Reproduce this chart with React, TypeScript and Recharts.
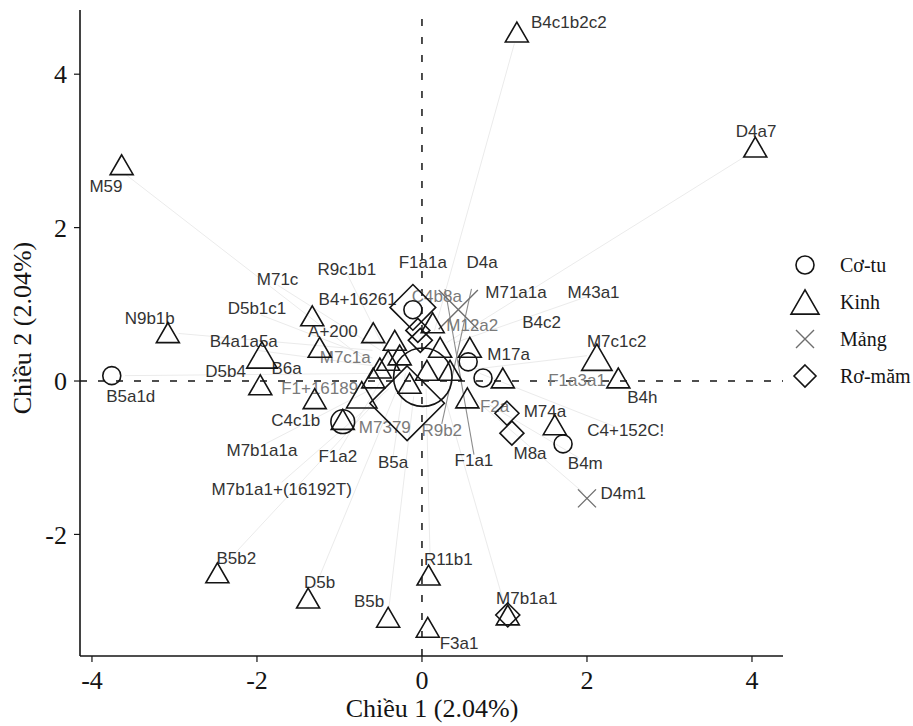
import React from 'react';
import { ScatterChart, Scatter, XAxis, YAxis, ReferenceLine } from 'recharts';

// Axis ticks
const xTicks = [-4, -2, 0, 2, 4];
const yTicks = [-2, 0, 2, 4];

// Haplotypes per population: [dim1, dim2, count]
const cotuPoints = [
  [-3.76, 0.07, 1], [-0.96, -0.53, 2], [0.01, 0.05, 19], [-0.11, 0.93, 1],
  [0.56, 0.25, 1], [0.74, 0.04, 1], [1.71, -0.82, 1],
];
const kinhPoints = [
  [1.15, 4.55, 1], [4.04, 3.05, 1], [-3.64, 2.82, 1], [-3.08, 0.63, 1],
  [-1.94, 0.34, 2], [-1.96, -0.05, 1], [-1.33, 0.85, 1], [-1.24, 0.44, 1],
  [-1.3, -0.23, 1], [-0.96, -0.5, 1], [-2.48, -2.5, 1], [-1.38, -2.83, 1],
  [-0.41, -3.08, 1], [0.08, -2.53, 1], [0.07, -3.21, 1], [1.04, -3.05, 1],
  [2.38, 0.04, 1], [2.12, 0.31, 2], [1.61, -0.57, 1],
  [-0.59, 0.63, 1], [-0.33, 0.53, 1], [0.13, 0.76, 1], [0.22, 0.44, 1],
  [0.58, 0.44, 1], [0.34, 0.14, 1], [0.06, 0.14, 1], [-0.15, -0.03, 1],
  [-0.51, 0.17, 1], [-0.59, 0.04, 1], [-0.73, -0.18, 2], [0.55, -0.22, 1],
  [0.98, 0.04, 1], [-0.41, 0.27, 1], [-0.27, 0.34, 1],
];
const mangPoints = [
  [2.0, -1.53, 1], [0.44, 0.93, 7],
];
const romamPoints = [
  [-0.11, 0.96, 5], [-0.05, 0.66, 1], [-0.02, 0.53, 1], [-0.18, -0.29, 17],
  [1.03, -0.42, 1], [1.09, -0.68, 1], [1.04, -3.05, 1],
];

// Haplogroup labels: [text, dim1, dim2]
const labelRows: [string, number, number][] = [
  ['B4c1b2c2', 1.78, 4.68], ['D4a7', 4.05, 3.25], ['M59', -3.83, 2.54],
  ['N9b1b', -3.3, 0.82], ['B5a1d', -3.53, -0.2], ['M71c', -1.75, 1.33],
  ['D5b1c1', -2.0, 0.94], ['B4a1a5a', -2.16, 0.52], ['D5b4', -2.38, 0.12],
  ['B6a', -1.64, 0.16], ['F1+16189', -1.24, -0.1], ['C4c1b', -1.53, -0.51],
  ['M7b1a1a', -1.94, -0.9], ['M7b1a1+(16192T)', -1.7, -1.41], ['F1a2', -1.02, -0.99],
  ['B5a', -0.35, -1.06], ['F1a1', 0.63, -1.04], ['M8a', 1.31, -0.94],
  ['B4m', 1.98, -1.07], ['C4+152C!', 2.47, -0.65], ['M74a', 1.49, -0.4],
  ['D4m1', 2.44, -1.46], ['B4h', 2.67, -0.22], ['M7c1c2', 2.36, 0.51],
  ['F1a3a1', 1.88, 0.01], ['M17a', 1.05, 0.34], ['B4c2', 1.45, 0.76],
  ['M12a2', 0.61, 0.73], ['M71a1a', 1.14, 1.16], ['M43a1', 2.08, 1.16],
  ['D4a', 0.73, 1.54], ['F1a1a', 0.01, 1.54], ['R9c1b1', -0.91, 1.46],
  ['B4+16261', -0.78, 1.06], ['C4b8a', 0.18, 1.1], ['A+200', -1.08, 0.64],
  ['M7c1a', -0.93, 0.31], ['M7379', -0.45, -0.61], ['R9b2', 0.24, -0.64],
  ['F2a', 0.88, -0.33], ['B5b2', -2.25, -2.31], ['D5b', -1.24, -2.63],
  ['B5b', -0.64, -2.88], ['R11b1', 0.32, -2.33], ['F3a1', 0.45, -3.42],
  ['M7b1a1', 1.27, -2.83],
];

// Leader segments from a label (or marker) to its haplotype in the cluster: [from1, from2, to1, to2]
const leaderRows = [
  [-3.6, 2.7, -0.6, 0.2], [1.12, 4.4, 0.15, 0.65], [3.95, 2.95, 0.3, 0.5],
  [-2.95, 0.62, -0.6, 0.4], [-3.6, 0.07, -0.5, 0.1], [-1.7, -1.32, -0.4, -0.1],
  [-1.9, -0.82, -0.6, -0.1], [-1.0, -0.9, -0.5, 0.0], [-0.35, -0.98, -0.2, 0.1],
  [-2.4, -2.4, -0.5, -0.2], [-1.3, -2.7, -0.3, -0.1], [-0.4, -2.95, -0.1, -0.2],
  [0.1, -2.4, 0.05, -0.1], [1.0, -2.92, 0.3, -0.3], [1.95, -1.45, 0.6, -0.2],
  [1.9, -1.0, 0.8, -0.3], [2.35, -0.6, 0.7, 0.1], [2.0, 1.1, 0.4, 0.5],
  [2.0, 0.33, 0.6, 0.15], [-1.75, 1.25, -0.5, 0.4], [-0.9, 1.38, -0.4, 0.3],
  [-1.95, 0.86, -0.6, 0.3], [-2.0, 0.4, -0.6, 0.2],
];
const darkLeaderRows = [
  [0.63, -0.96, 0.28, 1.2], [0.24, -0.56, 0.6, 1.2],
];

const fadedLabels = ['F1+16189', 'C4b8a', 'M7379', 'R9b2', 'F2a', 'M12a2', 'F1a3a1', 'M7c1a'];

const toPoints = (rows: number[][]) => rows.map(([x, y, n]) => ({ x, y, n }));
const labels = labelRows.map(([text, x, y]) => ({ text, x, y }));

const INK = '#141414';
const GREY = '#6e6e6e';
const SERIF = '"Liberation Serif", "Times New Roman", serif';
const SANS = '"Liberation Sans", Arial, sans-serif';

const grow = (base: number, n: number) => base * Math.pow(n, 0.4);

function Ring(p: any) {
  return <circle cx={p.cx} cy={p.cy} r={grow(9, p.payload.n)} fill="none" stroke={INK} strokeWidth={1.6} />;
}

function trianglePath(cx: number, cy: number, h: number) {
  const v = h * 0.866;
  return `${cx},${cy - v} ${cx - h},${cy + v} ${cx + h},${cy + v}`;
}

function Tri(p: any) {
  const h = grow(11.5, p.payload.n);
  return <polygon points={trianglePath(p.cx, p.cy, h)} fill="none" stroke={INK} strokeWidth={1.6} strokeLinejoin="miter" />;
}

function crossPath(cx: number, cy: number, h: number) {
  return `M${cx - h},${cy - h}L${cx + h},${cy + h}M${cx - h},${cy + h}L${cx + h},${cy - h}`;
}

function Cross(p: any) {
  const h = grow(9, p.payload.n);
  return <path d={crossPath(p.cx, p.cy, h)} fill="none" stroke={GREY} strokeWidth={1.4} />;
}

function diamondPath(cx: number, cy: number, h: number) {
  return `${cx},${cy - h} ${cx + h},${cy} ${cx},${cy + h} ${cx - h},${cy}`;
}

function Diamond(p: any) {
  const h = grow(12, p.payload.n);
  return <polygon points={diamondPath(p.cx, p.cy, h)} fill="none" stroke={INK} strokeWidth={1.6} />;
}

function LabelText(p: any) {
  const faded = fadedLabels.includes(p.payload.text);
  return (
    <text
      x={p.cx}
      y={p.cy}
      textAnchor="middle"
      dominantBaseline="central"
      fontFamily={SANS}
      fontSize={17}
      fill={faded ? '#7a7a7a' : '#333'}
    >
      {p.payload.text}
    </text>
  );
}

const legendItems = [
  { name: 'Cơ-tu', kind: 'circle' },
  { name: 'Kinh', kind: 'triangle' },
  { name: 'Mảng', kind: 'cross' },
  { name: 'Rơ-măm', kind: 'diamond' },
];

function LegendIcon({ kind, cx, cy }: { kind: string; cx: number; cy: number }) {
  if (kind === 'circle') return <circle cx={cx} cy={cy} r={9} fill="none" stroke={INK} strokeWidth={1.6} />;
  if (kind === 'triangle') return <polygon points={trianglePath(cx, cy, 14)} fill="none" stroke={INK} strokeWidth={1.6} />;
  if (kind === 'cross') return <path d={crossPath(cx, cy, 9)} stroke={GREY} strokeWidth={1.4} />;
  return <polygon points={diamondPath(cx, cy, 11)} fill="none" stroke={INK} strokeWidth={1.6} />;
}

export default function App() {
  const tick = { fontFamily: SERIF, fontSize: 26, fill: INK };
  const zeroLine = { stroke: INK, strokeWidth: 1.5, strokeDasharray: '7 11' };

  return (
    <div style={{ position: 'absolute', left: 0, top: 0, width: 913, height: 726, background: '#fff' }}>
      <ScatterChart width={913} height={726} margin={{ top: 10, right: 130, bottom: 0, left: 0 }}>
        <XAxis
          type="number"
          dataKey="x"
          domain={[-4.145, 4.376]}
          ticks={xTicks}
          allowDataOverflow
          height={70}
          tick={tick}
          tickSize={6}
          tickMargin={9}
          axisLine={{ stroke: INK, strokeWidth: 1.6 }}
          tickLine={{ stroke: INK, strokeWidth: 1.2 }}
        />
        <YAxis
          type="number"
          dataKey="y"
          domain={[-3.585, 4.837]}
          ticks={yTicks}
          allowDataOverflow
          width={80}
          tick={tick}
          tickSize={6}
          tickMargin={7}
          axisLine={{ stroke: INK, strokeWidth: 1.6 }}
          tickLine={{ stroke: INK, strokeWidth: 1.2 }}
        />
        {leaderRows.map(([x1, y1, x2, y2], i) => (
          <ReferenceLine key={`l${i}`} segment={[{ x: x1, y: y1 }, { x: x2, y: y2 }]} stroke="#ebebeb" strokeWidth={1} />
        ))}
        {darkLeaderRows.map(([x1, y1, x2, y2], i) => (
          <ReferenceLine key={`d${i}`} segment={[{ x: x1, y: y1 }, { x: x2, y: y2 }]} stroke="#8c8c8c" strokeWidth={1.1} />
        ))}
        <ReferenceLine x={0} {...zeroLine} />
        <ReferenceLine y={0} {...zeroLine} />
        <Scatter name="labels" data={labels} shape={LabelText} isAnimationActive={false} />
        <Scatter name="Mảng" data={toPoints(mangPoints)} shape={Cross} isAnimationActive={false} />
        <Scatter name="Kinh" data={toPoints(kinhPoints)} shape={Tri} isAnimationActive={false} />
        <Scatter name="Cơ-tu" data={toPoints(cotuPoints)} shape={Ring} isAnimationActive={false} />
        <Scatter name="Rơ-măm" data={toPoints(romamPoints)} shape={Diamond} isAnimationActive={false} />
      </ScatterChart>

      {/* axis titles and legend */}
      <svg width={913} height={726} style={{ position: 'absolute', left: 0, top: 0, pointerEvents: 'none' }}>
        <text x={432} y={717} textAnchor="middle" fontFamily={SERIF} fontSize={26} fill={INK}>
          Chiều 1 (2.04%)
        </text>
        <text x={31} y={328} transform="rotate(-90 31 328)" textAnchor="middle" fontFamily={SERIF} fontSize={26} fill={INK}>
          Chiều 2 (2.04%)
        </text>
        {legendItems.map((item, i) => {
          const cy = 265 + i * 37;
          return (
            <g key={item.name}>
              <LegendIcon kind={item.kind} cx={805} cy={cy} />
              <text x={840} y={cy + 7} fontFamily={SERIF} fontSize={20} fill={INK}>
                {item.name}
              </text>
            </g>
          );
        })}
      </svg>
    </div>
  );
}
